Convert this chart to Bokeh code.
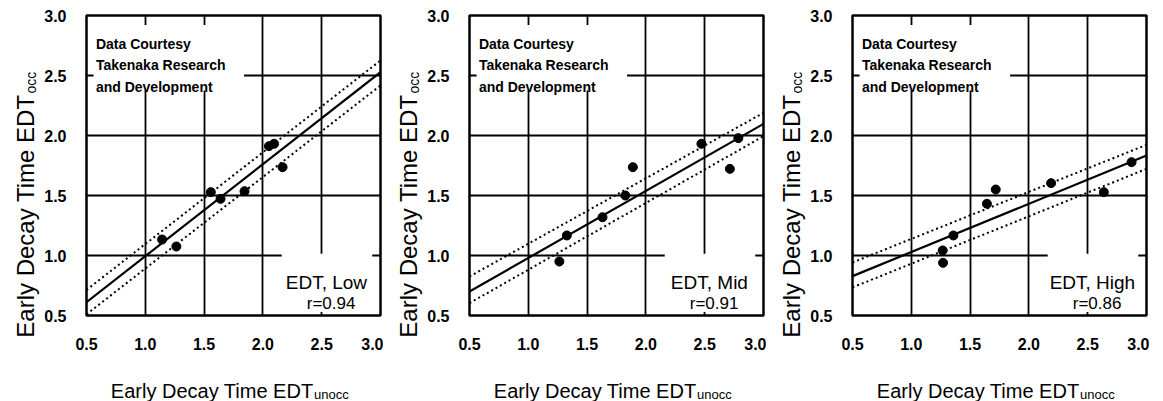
import math
from bokeh.plotting import figure
from bokeh.models import Label, FixedTicker, NumeralTickFormatter
from bokeh.layouts import row
from bokeh.embed import file_html
from bokeh.resources import INLINE

# ---------------- data ----------------
panel_names = ["EDT, Low", "EDT, Mid", "EDT, High"]
r_labels = ["r=0.94", "r=0.91", "r=0.86"]
courtesy_lines = ["Data Courtesy", "Takenaka Research", "and Development"]
tick_values = [0.5, 1.0, 1.5, 2.0, 2.5, 3.0]
x_title = "Early Decay Time EDT"
x_title_sub = "unocc"
y_title = "Early Decay Time EDT"
y_title_sub = "occ"

low_x = [1.143, 1.264, 1.557, 1.640, 1.844, 2.051, 2.095, 2.167]
low_y = [1.133, 1.075, 1.528, 1.472, 1.536, 1.911, 1.931, 1.736]
mid_x = [1.264, 1.328, 1.631, 1.825, 1.889, 2.472, 2.714, 2.786]
mid_y = [0.950, 1.167, 1.319, 1.500, 1.736, 1.931, 1.722, 1.978]
high_x = [1.267, 1.270, 1.358, 1.643, 1.718, 2.189, 2.637, 2.873]
high_y = [1.042, 0.939, 1.167, 1.431, 1.550, 1.603, 1.528, 1.778]

fit_x = [0.5, 3.0]
low_fit_y = [0.611, 2.528]
low_upper_y = [0.713, 2.625]
low_lower_y = [0.510, 2.417]
mid_fit_y = [0.700, 2.097]
mid_upper_y = [0.825, 2.189]
mid_lower_y = [0.603, 1.994]
high_fit_y = [0.828, 1.833]
high_upper_y = [0.942, 1.922]
high_lower_y = [0.734, 1.722]

FONT = "Liberation Sans"
H = 401
TOP_B = 15
BOT_B = 86
TITLE_W = 41
TITLE_LB = 27
LEFT_B = 38


def make_ytitle():
    # narrow strip holding the rotated y-axis title; data units == canvas pixels
    d = figure(width=TITLE_W, height=H,
               x_range=(TITLE_LB, TITLE_W), y_range=(BOT_B, H - TOP_B),
               output_backend="svg", toolbar_location=None,
               x_axis_type=None, y_axis_type=None,
               min_border_left=TITLE_LB, min_border_right=0,
               min_border_top=TOP_B, min_border_bottom=BOT_B)
    d.outline_line_color = None
    d.background_fill_color = "white"
    d.border_fill_color = "white"
    # main title lives in the side panel so it is not clipped by the strip's frame
    d.add_layout(Label(x=25, y=H - 94, text=y_title, text_font=FONT,
                       text_font_size="24px", text_baseline="alphabetic",
                       text_align="right", angle=math.pi / 2, text_color="black"), "left")
    d.add_layout(Label(x=30, y=H - 93, text=y_title_sub, text_font=FONT,
                       text_font_size="14px", text_baseline="alphabetic",
                       text_align="left", angle=math.pi / 2, text_color="black"))
    return d


def make_panel(px, py, fy, uy, ly, name, rlab):
    p = figure(width=LEFT_B + 301 + 3, height=H, x_range=(0.5, 3.0), y_range=(0.5, 3.0),
               output_backend="svg", toolbar_location=None,
               min_border_left=LEFT_B, min_border_right=3,
               min_border_top=TOP_B, min_border_bottom=BOT_B)
    p.background_fill_color = "white"
    p.border_fill_color = "white"
    p.outline_line_color = "black"
    p.outline_line_width = 2.5
    p.outline_line_alpha = 1.0

    for ax, standoff in ((p.xaxis[0], 16), (p.yaxis[0], 14)):
        ax.ticker = FixedTicker(ticks=tick_values)
        ax.formatter = NumeralTickFormatter(format="0.0")
        ax.axis_line_color = None
        ax.major_tick_line_color = None
        ax.minor_tick_line_color = None
        ax.major_label_standoff = standoff
        ax.major_label_text_font = FONT
        ax.major_label_text_font_size = "16px"
        ax.major_label_text_font_style = "bold"
        ax.major_label_text_color = "black"

    for g in (p.xgrid[0], p.ygrid[0]):
        g.ticker = FixedTicker(ticks=tick_values)
        g.grid_line_color = "black"
        g.grid_line_width = 1.8
        g.grid_line_alpha = 1.0

    # white backgrounds behind the in-plot texts
    p.quad(left=[0.56], right=[1.84], bottom=[2.375], top=[2.92],
           fill_color="white", line_color=None)
    p.quad(left=[2.16], right=[2.93], bottom=[0.53], top=[1.015],
           fill_color="white", line_color=None)

    p.line(fit_x, uy, line_color="black", line_width=2, line_dash="2 3")
    p.line(fit_x, ly, line_color="black", line_width=2, line_dash="2 3")
    p.line(fit_x, fy, line_color="black", line_width=2.2)
    p.scatter(px, py, size=9, marker="circle", fill_color="black", line_color="black")

    for text, yb in zip(courtesy_lines, [2.764, 2.589, 2.408]):
        p.add_layout(Label(x=0.58, y=yb, text=text, text_font=FONT,
                           text_font_size="14px", text_font_style="bold",
                           text_baseline="alphabetic", text_align="left",
                           text_color="black"))
    p.add_layout(Label(x=2.54, y=0.778, text=name, text_font=FONT,
                       text_font_size="19px", text_baseline="alphabetic",
                       text_align="center", text_color="black"))
    p.add_layout(Label(x=2.58, y=0.597, text=rlab, text_font=FONT,
                       text_font_size="17px", text_baseline="alphabetic",
                       text_align="center", text_color="black"))

    # x axis title with subscript (side panel => not clipped)
    p.add_layout(Label(x=2.43, y=-0.125, text=x_title, text_font=FONT,
                       text_font_size="20px", text_baseline="alphabetic",
                       text_align="right", text_color="black"), "below")
    p.add_layout(Label(x=2.435, y=-0.158, text=x_title_sub, text_font=FONT,
                       text_font_size="13px", text_baseline="alphabetic",
                       text_align="left", text_color="black"), "below")
    return p


p1 = make_panel(low_x, low_y, low_fit_y, low_upper_y, low_lower_y, panel_names[0], r_labels[0])
p2 = make_panel(mid_x, mid_y, mid_fit_y, mid_upper_y, mid_lower_y, panel_names[1], r_labels[1])
p3 = make_panel(high_x, high_y, high_fit_y, high_upper_y, high_lower_y, panel_names[2], r_labels[2])

layout = row(make_ytitle(), p1, make_ytitle(), p2, make_ytitle(), p3)
open("out.html", "w").write(file_html(layout, INLINE))
